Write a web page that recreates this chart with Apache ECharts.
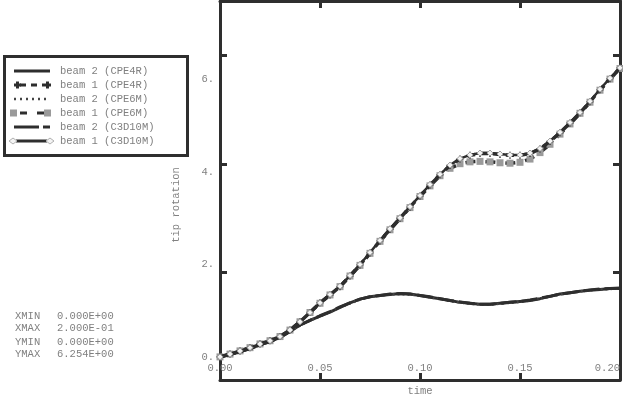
<!DOCTYPE html>
<html>
<head>
<meta charset="utf-8">
<script src="https://cdn.jsdelivr.net/npm/echarts@6/dist/echarts.min.js"></script>
<style>html,body{margin:0;padding:0;background:#fff}#c{width:623px;height:395px}</style>
</head>
<body>
<div id="c"></div>
<script>
// ---- data ----
const times = [0,0.005,0.01,0.015,0.02,0.025,0.03,0.035,0.04,0.045,0.05,0.055,0.06,0.065,0.07,0.075,0.08,0.085,0.09,0.095,0.1,0.105,0.11,0.115,0.12,0.125,0.13,0.135,0.14,0.145,0.15,0.155,0.16,0.165,0.17,0.175,0.18,0.185,0.19,0.195,0.2];
const beam2_CPE4R  = [0,0.05,0.11,0.18,0.26,0.33,0.42,0.55,0.69,0.79,0.88,0.97,1.07,1.17,1.25,1.30,1.33,1.35,1.37,1.36,1.33,1.29,1.26,1.22,1.18,1.16,1.14,1.14,1.16,1.18,1.20,1.22,1.26,1.31,1.36,1.39,1.42,1.44,1.46,1.48,1.48];
const beam1_CPE4R  = [0,0.06,0.13,0.20,0.28,0.35,0.44,0.58,0.76,0.96,1.17,1.34,1.52,1.75,1.99,2.25,2.51,2.76,3.00,3.24,3.48,3.72,3.94,4.14,4.28,4.36,4.40,4.40,4.38,4.36,4.36,4.40,4.50,4.66,4.85,5.06,5.28,5.52,5.78,6.02,6.254];
const beam2_CPE6M  = [0,0.05,0.11,0.18,0.26,0.33,0.42,0.55,0.68,0.79,0.88,0.97,1.07,1.16,1.24,1.30,1.33,1.35,1.36,1.35,1.33,1.29,1.25,1.21,1.18,1.15,1.13,1.13,1.15,1.17,1.19,1.22,1.26,1.31,1.35,1.39,1.42,1.44,1.46,1.47,1.48];
const beam1_CPE6M  = [0,0.06,0.13,0.20,0.28,0.35,0.44,0.58,0.76,0.96,1.16,1.34,1.52,1.75,1.98,2.24,2.50,2.75,2.99,3.23,3.47,3.70,3.92,4.08,4.18,4.22,4.23,4.22,4.20,4.19,4.21,4.28,4.42,4.60,4.82,5.04,5.27,5.51,5.77,6.01,6.24];
const beam2_C3D10M = [0,0.05,0.11,0.18,0.26,0.33,0.42,0.55,0.69,0.79,0.89,0.98,1.08,1.17,1.25,1.30,1.33,1.36,1.37,1.36,1.33,1.30,1.26,1.22,1.19,1.16,1.14,1.14,1.16,1.18,1.20,1.23,1.27,1.31,1.36,1.39,1.42,1.45,1.47,1.48,1.49];
const beam1_C3D10M = [0,0.06,0.13,0.20,0.28,0.35,0.44,0.58,0.76,0.96,1.17,1.35,1.53,1.76,2.00,2.26,2.52,2.77,3.01,3.25,3.49,3.73,3.95,4.15,4.29,4.37,4.41,4.41,4.39,4.37,4.37,4.41,4.51,4.67,4.86,5.07,5.29,5.53,5.79,6.03,6.254];
const seriesNames = ['beam 2 (CPE4R)','beam 1 (CPE4R)','beam 2 (CPE6M)','beam 1 (CPE6M)','beam 2 (C3D10M)','beam 1 (C3D10M)'];
const yLabelValues = [0,2,4,6];
const yFrameTicks = [1.837,4.173,6.532];
const infoLabels = ['XMIN','XMAX','YMIN','YMAX'];
const infoValues = ['0.000E+00','2.000E-01','0.000E+00','6.254E+00'];

// ---- chart ----
const FONT = 'Liberation Mono';
const TXT = '#808080';
const DARK = '#2e2e2e';
const pair = arr => times.map((t,i)=>[t,arr[i]]);
const plus = 'path://M0,4H10V6H0Z M4,0H6V10H4Z';

const chart = echarts.init(document.getElementById('c'));
const frameAxisLine = {show:true, onZero:false, lineStyle:{color:DARK, width:3}};
const frameTick = {show:true, inside:true, length:7, lineStyle:{color:DARK, width:3}};

// hand-drawn legend (graphic)
const legRows = [71,85,99,113,127,141];
const legend = [
  {type:'rect', shape:{x:4.5, y:56.5, width:183, height:99}, style:{fill:'#fff', stroke:DARK, lineWidth:3}, z:10}
];
const L = (x1,y,x2,extra) => Object.assign({type:'line', shape:{x1:x1,y1:y,x2:x2,y2:y}, style:{stroke:DARK, lineWidth:3}, z:11}, extra||{});
legend.push(L(14,legRows[0],50));
legend.push(L(20,legRows[1],44,{style:{stroke:DARK,lineWidth:3,lineDash:[6,5]}}));
[[14],[44]].forEach(([x])=>{
  legend.push({type:'rect', shape:{x:x,y:legRows[1]-1.5,width:7,height:3}, style:{fill:DARK}, z:11});
  legend.push({type:'rect', shape:{x:x+2,y:legRows[1]-3.5,width:3,height:7}, style:{fill:DARK}, z:11});
});
legend.push(L(14,legRows[2],46,{style:{stroke:'#444',lineWidth:2.5,lineDash:[2,4]}}));
legend.push(L(20,legRows[3],44,{style:{stroke:DARK,lineWidth:3,lineDash:[7,10]}}));
[10,44].forEach(x=>legend.push({type:'rect', shape:{x:x,y:legRows[3]-3.5,width:7,height:7}, style:{fill:'#9a9a9a'}, z:12}));
legend.push(L(14,legRows[4],39));
legend.push(L(43,legRows[4],50));
legend.push(L(16,legRows[5],47));
[13,50].forEach(x=>legend.push({type:'polygon', shape:{points:[[x-4,legRows[5]],[x,legRows[5]-3],[x+4,legRows[5]],[x,legRows[5]+3]]}, style:{fill:'#f4f4f4', stroke:'#b0b0b0', lineWidth:1}, z:12}));
seriesNames.forEach((s,i)=>legend.push({type:'text', x:60, y:legRows[i], style:{text:s, fontFamily:FONT, fontSize:10.5, fill:TXT, verticalAlign:'middle'}, z:12}));

chart.setOption({
  animation:false,
  backgroundColor:'#fff',
  grid:{left:220, right:3, top:1, bottom:15, containLabel:false, outerBoundsMode:'none'},
  xAxis:[{
    type:'value', min:0, max:0.2, interval:0.05, position:'bottom',
    name:'time', nameLocation:'middle', nameGap:1,
    nameTextStyle:{fontFamily:FONT, fontSize:10.5, color:TXT, verticalAlign:'top'},
    axisLine:frameAxisLine, axisTick:frameTick,
    axisLabel:{inside:true, margin:6, fontFamily:FONT, fontSize:10.5, color:TXT, alignMaxLabel:'right', formatter:v=>v.toFixed(2)},
    splitLine:{show:false}
  },{
    type:'value', min:0, max:0.2, interval:0.05, position:'top',
    axisLine:frameAxisLine, axisTick:frameTick, axisLabel:{show:false}, splitLine:{show:false}
  }],
  yAxis:[{
    type:'value', min:-0.5, max:7.7, position:'left',
    axisLine:frameAxisLine,
    axisTick:Object.assign({customValues:yFrameTicks}, frameTick),
    axisLabel:{customValues:yLabelValues, margin:6, fontFamily:FONT, fontSize:10.5, color:TXT, formatter:v=>v+'.'},
    splitLine:{show:false}
  },{
    type:'value', min:-0.5, max:7.7, position:'right',
    axisLine:frameAxisLine,
    axisTick:Object.assign({customValues:yFrameTicks}, frameTick),
    axisLabel:{show:false}, splitLine:{show:false}
  }],
  graphic:[
    {type:'text', x:176, y:205, rotation:Math.PI/2,
     style:{text:'tip rotation', fontFamily:FONT, fontSize:10.5, fill:TXT, align:'center', verticalAlign:'middle'}},
    ...infoLabels.map((s,i)=>({type:'text', x:15, y:[316,328,342,354][i], style:{text:s, fontFamily:FONT, fontSize:10.5, fill:TXT, verticalAlign:'middle'}})),
    ...infoValues.map((s,i)=>({type:'text', x:57, y:[316,328,342,354][i], style:{text:s, fontFamily:FONT, fontSize:10.5, fill:TXT, verticalAlign:'middle'}})),
    ...legend
  ],
  series:[
    {name:seriesNames[0], type:'line', data:pair(beam2_CPE4R), showSymbol:false, symbol:'none',
     lineStyle:{color:DARK, width:3}, itemStyle:{color:DARK}, z:3},
    {name:seriesNames[1], type:'line', data:pair(beam1_CPE4R), symbol:plus, symbolSize:7, showSymbol:true,
     lineStyle:{color:DARK, width:3.5, type:[8,5]}, itemStyle:{color:DARK}, z:4},
    {name:seriesNames[2], type:'line', data:pair(beam2_CPE6M), symbol:'none',
     lineStyle:{color:'#444', width:2.5, type:[2,3]}, itemStyle:{color:'#444'}, z:3},
    {name:seriesNames[3], type:'line', data:pair(beam1_CPE6M), symbol:'rect', symbolSize:7, showSymbol:true,
     lineStyle:{color:DARK, width:3.5, type:[10,10]}, itemStyle:{color:'#9a9a9a'}, z:2},
    {name:seriesNames[4], type:'line', data:pair(beam2_C3D10M), symbol:'none',
     lineStyle:{color:DARK, width:3, type:[16,5]}, itemStyle:{color:DARK}, z:3},
    {name:seriesNames[5], type:'line', data:pair(beam1_C3D10M), symbol:'diamond', symbolSize:6, showSymbol:true,
     lineStyle:{color:DARK, width:2.5}, itemStyle:{color:'#f4f4f4', borderColor:'#a0a0a0', borderWidth:1}, z:5}
  ]
});
</script>
</body>
</html>
